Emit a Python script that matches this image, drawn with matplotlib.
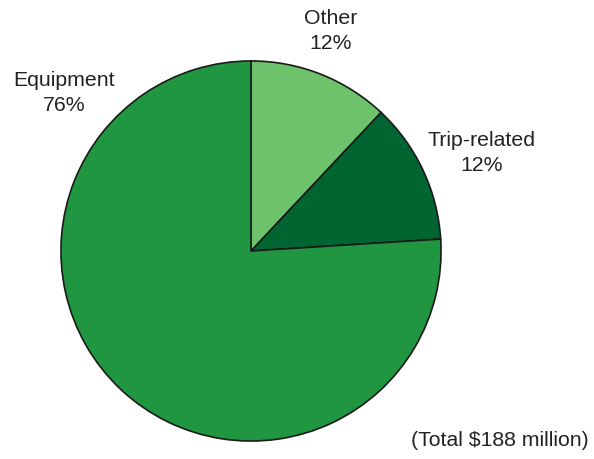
import matplotlib
matplotlib.use("Agg")
from matplotlib import pyplot as plt

plt.rcParams['font.family'] = ['Liberation Sans', 'DejaVu Sans']

# Spending shares, clockwise from the top
labels = ["Other", "Trip-related", "Equipment"]
shares = [12, 12, 76]
colors = ["#6dc26b", "#006530", "#209641"]
total_note = "(Total $188 million)"

W, H = 594, 459
fig = plt.figure(figsize=(W / 100, H / 100), dpi=100)

# pie centre and radius in pixels
cx, cy, r = 251, 251, 191
ax = fig.add_axes([(cx - r) / W, (H - cy - r) / H, 2 * r / W, 2 * r / H])
ax.pie(shares, colors=colors, startangle=90, counterclock=False,
       wedgeprops=dict(edgecolor="#1a1a1a", linewidth=1.2))
ax.set_xlim(-1.005, 1.005)
ax.set_ylim(-1.005, 1.005)
ax.set_aspect("equal")
ax.axis("off")


def px_text(x, y, s, **kw):
    fig.text(x / W, 1 - y / H, s, ha="center", va="center",
             fontsize=15.3, color="#222222", linespacing=1.38, **kw)


# slice labels (pixel positions of text centres)
label_pos = {"Other": (331, 31), "Trip-related": (482, 153), "Equipment": (64, 93)}
for name, pct in zip(labels, shares):
    x, y = label_pos[name]
    px_text(x, y, f"{name}\n{pct}%")

px_text(500, 440, total_note)

fig.savefig("out.png", dpi=100)
